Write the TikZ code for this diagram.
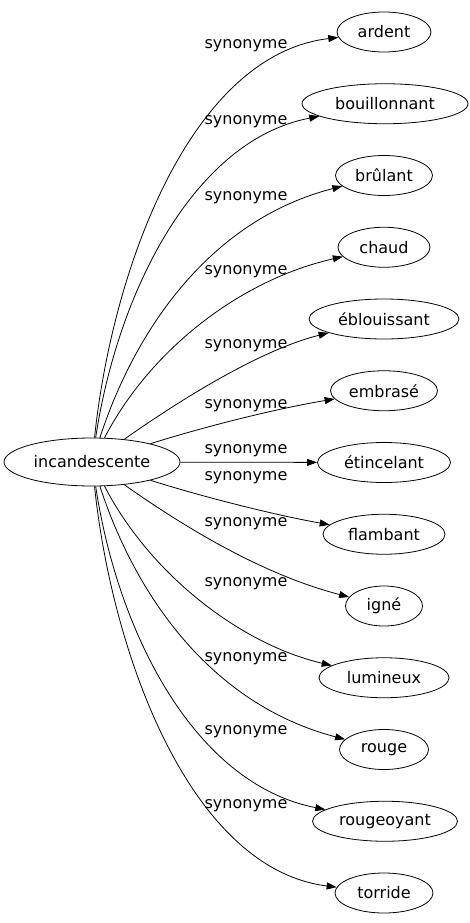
\documentclass[tikz,border=0pt]{standalone}
\usepackage{fontspec}
\setmainfont{DejaVu Sans}
\usetikzlibrary{shapes.geometric,arrows.meta}
\tikzset{
  word/.style={ellipse,draw,line width=0.8pt,inner sep=0pt,minimum height=40pt,font=\fontsize{16}{19}\selectfont},
  rel/.style={font=\fontsize{16}{19}\selectfont,inner sep=0pt},
  link/.style={line width=0.8pt,-{Triangle[length=10pt,width=7pt]}}
}
\begin{document}
\begin{tikzpicture}[x=1pt,y=-1pt]
\useasboundingbox (0,0) rectangle (469,923);
\node[word,minimum width=176pt,minimum height=48pt] (c) at (92,462) {incandescente};
\node[word,minimum width=94pt]  (t1)  at (384,32)     {ardent};
\node[word,minimum width=166pt] (t2)  at (385,103.75) {bouillonnant};
\node[word,minimum width=97pt]  (t3)  at (384,175.5)  {brûlant};
\node[word,minimum width=92pt]  (t4)  at (384,247.25) {chaud};
\node[word,minimum width=150pt] (t5)  at (384,319)    {éblouissant};
\node[word,minimum width=107pt] (t6)  at (384,390.75) {embrasé};
\node[word,minimum width=133pt] (t7)  at (384,462.5)  {étincelant};
\node[word,minimum width=122pt] (t8)  at (384,534.25) {flambant};
\node[word,minimum width=77pt]  (t9)  at (384,606)    {igné};
\node[word,minimum width=130pt] (t10) at (384,677.75) {lumineux};
\node[word,minimum width=89pt]  (t11) at (384,749.5)  {rouge};
\node[word,minimum width=145pt] (t12) at (385,821.25) {rougeoyant};
\node[word,minimum width=98pt]  (t13) at (384,893)    {torride};
% edges
\draw[link] (c) .. controls (112,270) and (190,55) .. (t1);
\draw[link] (c) .. controls (118,290) and (195,140) .. (t2);
\draw[link] (c) .. controls (135,330) and (210,220) .. (t3);
\draw[link] (c) .. controls (150,350) and (240,280) .. (t4);
\draw[link] (c) .. controls (180,400) and (260,350) .. (t5);
\draw[link] (c) .. controls (210,425) and (280,408) .. (t6);
\draw[link] (c) -- (t7);
\draw[link] (c) .. controls (210,499) and (280,516) .. (t8);
\draw[link] (c) .. controls (180,524) and (260,574) .. (t9);
\draw[link] (c) .. controls (150,574) and (240,644) .. (t10);
\draw[link] (c) .. controls (135,594) and (210,704) .. (t11);
\draw[link] (c) .. controls (118,634) and (195,784) .. (t12);
\draw[link] (c) .. controls (112,654) and (190,869) .. (t13);
% labels
\node[rel] (l1)  at (246,46)  {synonyme};
\node[rel] (l2)  at (246,122) {synonyme};
\node[rel] (l3)  at (246,198) {synonyme};
\node[rel] (l4)  at (246,272) {synonyme};
\node[rel] (l5)  at (246,346) {synonyme};
\node[rel] (l6)  at (246,406) {synonyme};
\node[rel] (l7)  at (246,451) {synonyme};
\node[rel] (l8)  at (246,478) {synonyme};
\node[rel] (l9)  at (246,524) {synonyme};
\node[rel] (l10) at (246,584) {synonyme};
\node[rel] (l11) at (246,659) {synonyme};
\node[rel] (l12) at (246,732) {synonyme};
\node[rel] (l13) at (246,806) {synonyme};
\end{tikzpicture}
\end{document}
